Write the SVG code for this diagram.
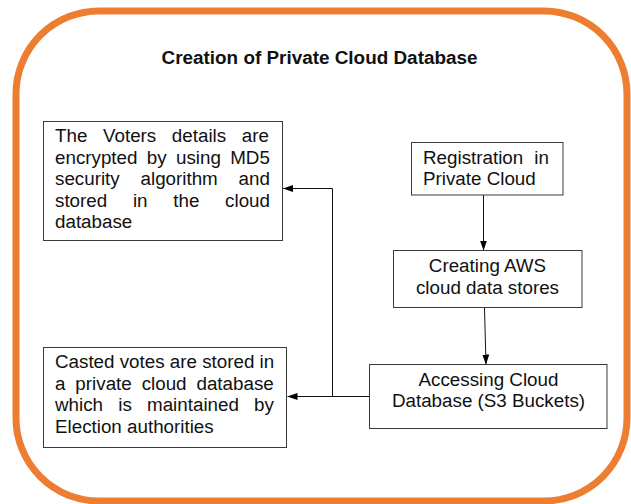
<svg xmlns="http://www.w3.org/2000/svg" width="631" height="504" viewBox="0 0 631 504">
<style>
.frame{fill:none;stroke:#ED7D31;stroke-width:7}
.box{fill:#fff;stroke:#3a3a3a;stroke-width:1}
.t{font-family:"Liberation Sans",Arial,sans-serif;font-size:18.8px;fill:#111}
.title{font-family:"Liberation Sans",Arial,sans-serif;font-size:18.9px;font-weight:bold;fill:#111}
.c{text-anchor:middle}
.conn{fill:none;stroke:#111;stroke-width:1}
</style>
<defs>
<marker id="ah" markerUnits="userSpaceOnUse" markerWidth="10" markerHeight="7" refX="10" refY="3.5" orient="auto">
<path d="M0,0 L10,3.5 L0,7 z" fill="#000"/>
</marker>
</defs>
<rect class="frame" x="16" y="11" width="611" height="490" rx="83" ry="83"/>
<text class="title c" x="319.5" y="64">Creation of Private Cloud Database</text>
<g id="connectors">
<line class="conn" x1="483.5" y1="195" x2="483.5" y2="250.5" marker-end="url(#ah)"/>
<line class="conn" x1="484.5" y1="308" x2="486" y2="364.5" marker-end="url(#ah)"/>
<path class="conn" d="M369.5 396.5 H287.5" marker-end="url(#ah)"/>
<path class="conn" d="M332.5 396.5 V188.5 H283" marker-end="url(#ah)"/>
</g>
<g id="voters">
<rect class="box" x="43.5" y="121.5" width="239" height="119"/>
<text class="t" x="55" y="142" word-spacing="10.4">The Voters details are</text>
<text class="t" x="55" y="163.5" word-spacing="4.1">encrypted by using MD5</text>
<text class="t" x="55" y="185" word-spacing="15.6">security algorithm and</text>
<text class="t" x="55" y="206.5" word-spacing="20.5">stored in the cloud</text>
<text class="t" x="55" y="228">database</text>
</g>
<g id="registration">
<rect class="box" x="411.5" y="142.5" width="151.5" height="52.5"/>
<text class="t" x="423" y="163.5" word-spacing="5.9">Registration in</text>
<text class="t" x="423" y="185">Private Cloud</text>
</g>
<g id="creating">
<rect class="box" x="393.5" y="250.5" width="188.5" height="57"/>
<text class="t c" x="487.5" y="272">Creating AWS</text>
<text class="t c" x="487.5" y="293.5">cloud data stores</text>
</g>
<g id="accessing">
<rect class="box" x="369.5" y="364.5" width="237.5" height="64"/>
<text class="t c" x="488.5" y="386">Accessing Cloud</text>
<text class="t c" x="488.5" y="407">Database (S3 Buckets)</text>
</g>
<g id="casted">
<rect class="box" x="43.5" y="347.5" width="243" height="100"/>
<text class="t" x="55" y="368">Casted votes are stored in</text>
<text class="t" x="55" y="389.5" word-spacing="4.7">a private cloud database</text>
<text class="t" x="55" y="411" word-spacing="10">which is maintained by</text>
<text class="t" x="55" y="432.5">Election authorities</text>
</g>
</svg>
